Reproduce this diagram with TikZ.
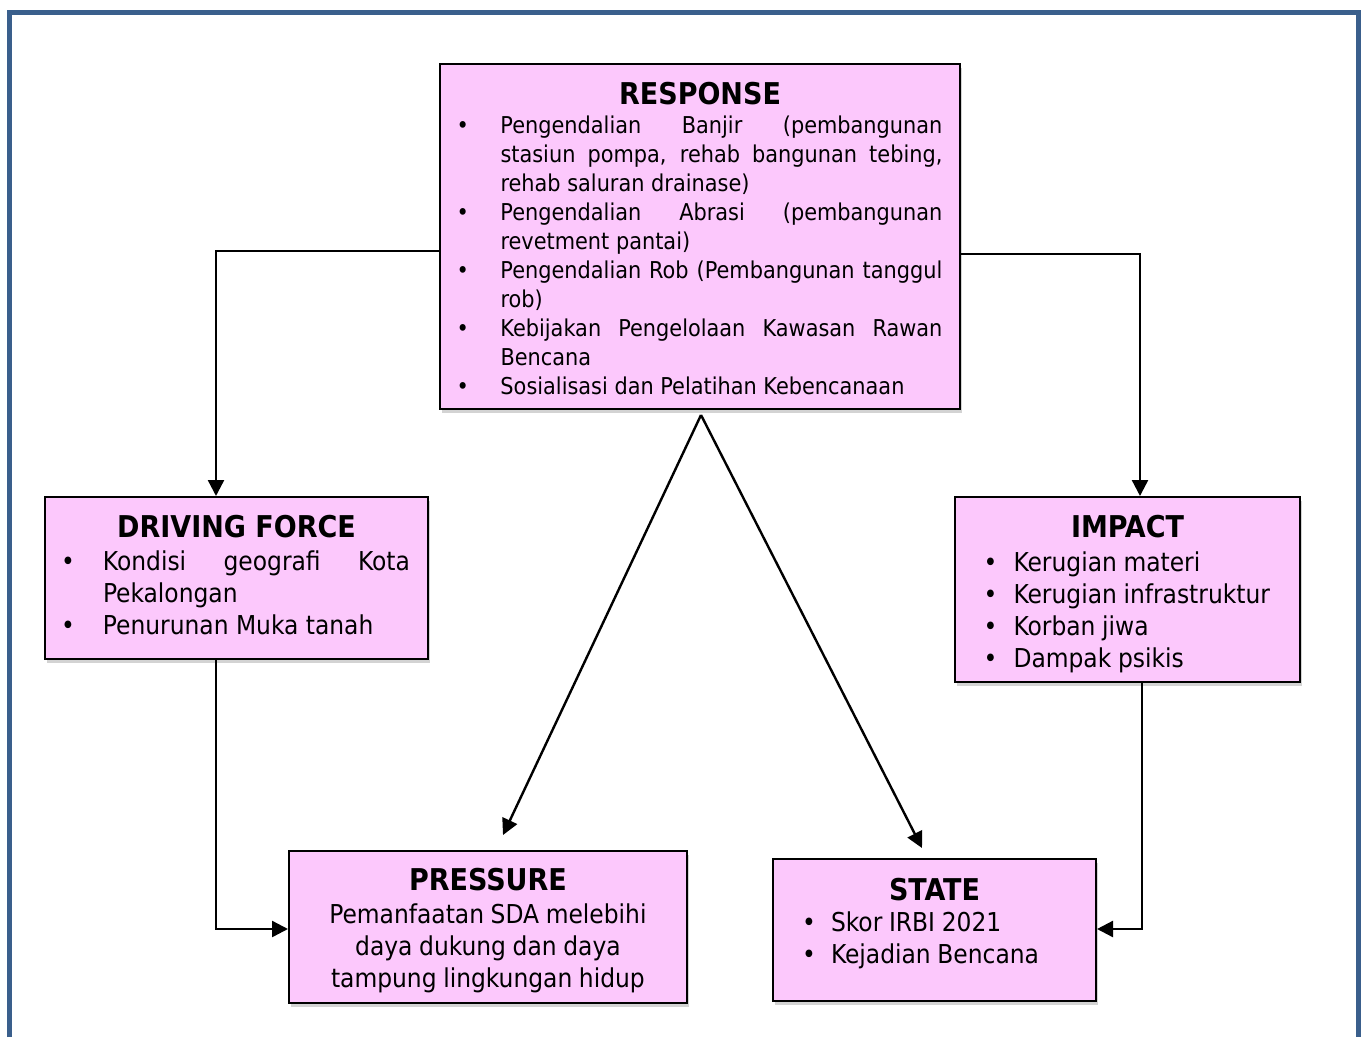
\documentclass[tikz,border=0pt]{standalone}
\usepackage{fontspec}
\setmainfont{DejaVu Sans Condensed}
\usetikzlibrary{arrows.meta,shadows}
\definecolor{boxpink}{RGB}{252,200,252}
\definecolor{frameblue}{RGB}{58,95,140}
\newlength\bulind
\newlength\buloff
\newcommand{\bitem}[1]{\par\noindent\hangindent=\bulind\hangafter=1\makebox[\bulind][l]{\hspace{\buloff}\textbullet}#1}
\newcommand{\boxtitle}[1]{{\centering\fontsize{15}{18}\selectfont\bfseries #1\par}\vspace{1pt}}
\newcommand{\botpad}[1]{\par\vspace*{#1}\nointerlineskip\noindent\rule{0pt}{0pt}\par}
\begin{document}
\begin{tikzpicture}[x=0.5pt, y=-0.5pt,
    box/.style={draw, line width=1pt, fill=boxpink, inner sep=0pt, align=justify,
        drop shadow={opacity=0.35, shadow xshift=1.2pt, shadow yshift=-2.2pt}},
    arr/.style={draw, line width=1.2pt, -{Triangle[length=8pt, width=8pt]}}]
    \useasboundingbox (0,0) rectangle (1363,1037);
    \draw[frameblue, line width=2.5pt] (9,1037) -- (9,13) -- (1358,13) -- (1358,1037);

    \node[box, minimum width=260pt, minimum height=172.5pt, text width=242.5pt] (response) at (700,236.5)
        {\setlength\bulind{21.5pt}\setlength\buloff{-0.5pt}\boxtitle{RESPONSE}\vspace{-1pt}\fontsize{11.6}{14.5}\selectfont
         \bitem{Pengendalian Banjir (pembangunan\linebreak stasiun pompa, rehab bangunan tebing,\linebreak rehab saluran drainase)}
         \bitem{Pengendalian Abrasi (pembangunan\linebreak revetment pantai)}
         \bitem{Pengendalian Rob (Pembangunan tanggul\linebreak rob)}
         \bitem{Kebijakan Pengelolaan Kawasan Rawan\linebreak Bencana}
         \bitem{Sosialisasi dan Pelatihan Kebencanaan}\botpad{-2pt}};
    \node[box, minimum width=191.5pt, minimum height=81pt, text width=173.5pt] (driving) at (236.5,578)
        {\setlength\bulind{20pt}\setlength\buloff{-1pt}\boxtitle{DRIVING FORCE}\vspace{-0.5pt}\fontsize{13}{16}\selectfont
         \bitem{Kondisi geografi Kota\linebreak Pekalongan}
         \bitem{Penurunan Muka tanah}\botpad{2.5pt}};
    \node[box, minimum width=172.5pt, minimum height=92.5pt, text width=145pt, align=left] (impact) at (1127.5,589.5)
        {\setlength\bulind{15.5pt}\setlength\buloff{0.5pt}\boxtitle{IMPACT}\fontsize{13}{16}\selectfont
         \bitem{Kerugian materi}
         \bitem{Kerugian infrastruktur}
         \bitem{Korban jiwa}
         \bitem{Dampak psikis}\botpad{-4.5pt}};
    \node[box, minimum width=199pt, minimum height=76pt, text width=185pt, align=center] (pressure) at (488,927)
        {\boxtitle{PRESSURE}\vspace{-0.5pt}\fontsize{13}{16}\selectfont
         Pemanfaatan SDA melebihi\\ daya dukung dan daya\\ tampung lingkungan hidup\botpad{-4pt}};
    \node[box, minimum width=161.5pt, minimum height=71pt, text width=133.5pt, align=left] (state) at (934.5,930)
        {\setlength\bulind{15pt}\setlength\buloff{0.5pt}\boxtitle{STATE}\vspace{-1.5pt}\fontsize{13}{16}\selectfont
         \bitem{Skor IRBI 2021}
         \bitem{Kejadian Bencana}\botpad{6.5pt}};

    \coordinate (apex) at (701,415);
    \coordinate (ptip) at (503,835);
    \coordinate (stip) at (922,848);

    \draw[arr] (response.west |- 0,251) -| (driving.north -| 216,0);
    \draw[arr] (response.east |- 0,254) -| (impact.north -| 1140,0);
    \draw[arr] (driving.south -| 216,0) |- (pressure.west |- 0,929);
    \draw[arr] (impact.south -| 1142,0) |- (state.east |- 0,929);
    \draw[arr] (apex) -- (ptip);
    \draw[arr] (apex) -- (stip);
\end{tikzpicture}
\end{document}
